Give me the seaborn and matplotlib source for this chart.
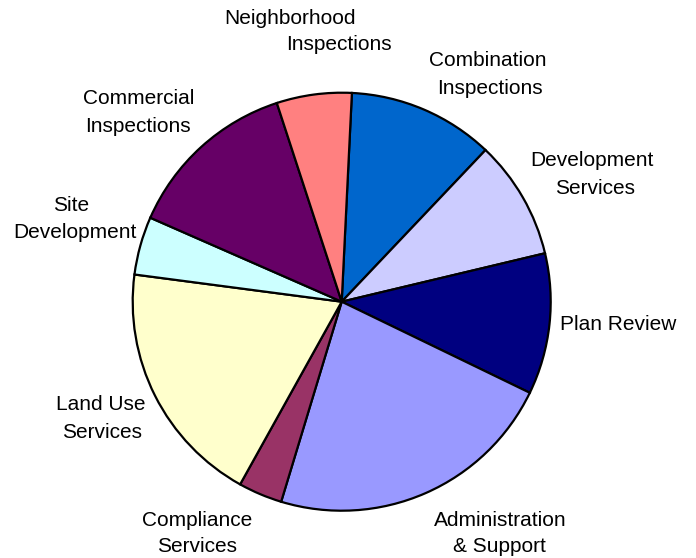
import matplotlib
matplotlib.use("Agg")
import matplotlib.pyplot as plt
import seaborn as sns

# Budget share by program area (percent), listed clockwise from the top
programs = [
    "Combination\nInspections",
    "Development\nServices",
    "Plan Review",
    "Administration\n& Support",
    "Compliance\nServices",
    "Land Use\nServices",
    "Site\nDevelopment",
    "Commercial\nInspections",
    "Neighborhood\nInspections",
]
shares = [11.3, 9.2, 10.9, 22.5, 3.4, 19.0, 4.5, 13.4, 5.8]
colors = ["#0066CC", "#CCCCFF", "#000080", "#9999FF", "#993366",
          "#FFFFCC", "#CCFFFF", "#660066", "#FF8080"]

# Label line anchors in pixel space (x, y from top), one pair per text line
label_lines = [
    [(488, 59), (489.5, 86)],
    [(592, 159), (595.5, 186)],
    [(618.5, 323)],
    [(500, 518), (499, 545)],
    [(197.5, 519), (197.5, 545)],
    [(101, 403), (102, 430)],
    [(71, 203.5), (75, 230)],
    [(138.5, 97), (137.5, 124)],
    [(290, 16.5), (339, 42)],
]

W, H = 696, 558
sns.set_theme(style="white")
plt.rcParams["font.family"] = ["Liberation Sans", "DejaVu Sans"]

fig = plt.figure(figsize=(W / 100, H / 100), dpi=100)
fig.patch.set_facecolor("white")
ax = fig.add_axes([0, 0, 1, 1])

ax.pie(
    shares,
    colors=colors,
    startangle=87.2,
    counterclock=False,
    center=(341.7, H - 301.7),
    radius=209,
    wedgeprops=dict(edgecolor="black", linewidth=1.6),
)

for name, anchors in zip(programs, label_lines):
    for line, (px, py) in zip(name.split("\n"), anchors):
        ax.text(px, H - py - 7.5, line, ha="center", va="baseline",
                fontsize=15, color="black")

ax.set_xlim(0, W)
ax.set_ylim(0, H)
ax.set_aspect("equal")
ax.axis("off")

fig.savefig("out.png", dpi=100, facecolor="white")
